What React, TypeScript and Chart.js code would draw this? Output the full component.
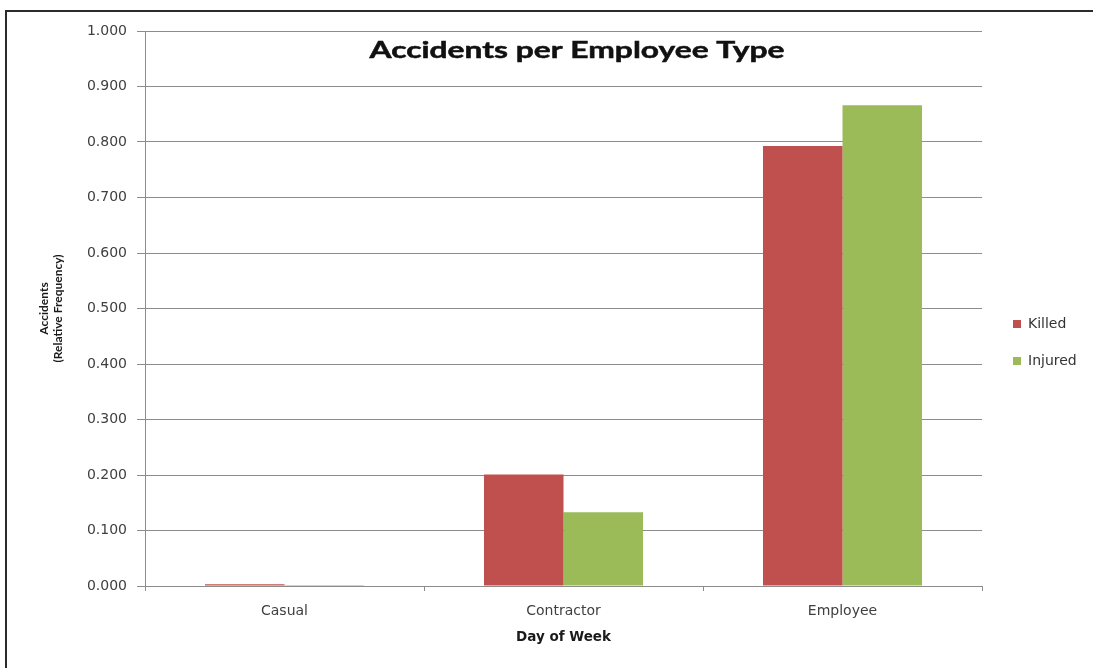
import React, { useEffect, useRef } from "react";
import { Chart, registerables } from "chart.js";

Chart.register(...registerables);

const categories = ["Casual", "Contractor", "Employee"];
const killedValues = [0.003, 0.201, 0.793];
const injuredValues = [0.002, 0.133, 0.866];
const seriesNames = ["Killed", "Injured"];
const seriesColors = ["#C0504D", "#9BBB59"];
const chartTitle = "Accidents per Employee Type";
const yTitle = ["Accidents", "(Relative Frequency)"];
const xTitle = "Day of Week";

const W = 1093;
const H = 668;

const decorPlugin = {
  id: "decor",
  beforeDraw(chart: any) {
    const ctx = chart.ctx;
    ctx.save();
    ctx.fillStyle = "#ffffff";
    ctx.fillRect(0, 0, W, H);
    ctx.restore();
  },
  afterDraw(chart: any) {
    const ctx = chart.ctx;
    ctx.save();
    // outer frame
    ctx.strokeStyle = "#2b2b2b";
    ctx.lineWidth = 2;
    ctx.beginPath();
    ctx.moveTo(6, H + 2);
    ctx.lineTo(6, 11);
    ctx.lineTo(W + 2, 11);
    ctx.stroke();
    // title on white band
    const cx = 577;
    const targetW = 415;
    ctx.fillStyle = "#ffffff";
    ctx.fillRect(cx - targetW / 2 - 8, 36, targetW + 16, 36);
    ctx.font = "bold 23px Lato";
    const tw = ctx.measureText(chartTitle).width;
    ctx.save();
    ctx.translate(cx, 51);
    ctx.scale(targetW / tw, 1);
    ctx.fillStyle = "#111111";
    ctx.strokeStyle = "#111111";
    ctx.lineWidth = 0.5;
    ctx.textAlign = "center";
    ctx.textBaseline = "middle";
    ctx.fillText(chartTitle, 0, 0);
    ctx.strokeText(chartTitle, 0, 0);
    ctx.restore();
    // legend
    const ys = [324, 361];
    ctx.font = "14px 'DejaVu Sans'";
    ctx.textAlign = "left";
    ctx.textBaseline = "middle";
    chart.data.datasets.forEach((ds: any, i: number) => {
      ctx.fillStyle = ds.backgroundColor;
      ctx.fillRect(1013, ys[i] - 4, 8, 8);
      ctx.fillStyle = "#333333";
      ctx.fillText(ds.label, 1028, ys[i]);
    });
    ctx.restore();
  },
};

export default function App() {
  const ref = useRef<HTMLCanvasElement>(null);
  useEffect(() => {
    if (!ref.current) return;
    const chart = new Chart(ref.current, {
      type: "bar",
      data: {
        labels: categories,
        datasets: [
          { label: seriesNames[0], data: killedValues, backgroundColor: seriesColors[0] },
          { label: seriesNames[1], data: injuredValues, backgroundColor: seriesColors[1] },
        ],
      },
      options: {
        responsive: false,
        animation: false,
        datasets: { bar: { categoryPercentage: 0.57, barPercentage: 1.0 } },
        layout: { padding: { top: 31, right: 111, bottom: 0, left: 0 } },
        plugins: { legend: { display: false }, title: { display: false }, tooltip: { enabled: false } },
        scales: {
          x: {
            grid: { display: true, drawOnChartArea: false, drawTicks: true, tickLength: 5, color: "#8c8c8c" },
            border: { display: true, color: "#8c8c8c" },
            ticks: { font: { family: "'DejaVu Sans'", size: 14 }, color: "#404040", padding: 12 },
            title: {
              display: true,
              text: xTitle,
              font: { family: "'DejaVu Sans'", size: 13.5, weight: "bold" },
              color: "#1a1a1a",
              padding: { top: 0, bottom: 22 },
            },
            afterFit(scale: any) {
              scale.height = 82;
            },
          },
          y: {
            min: 0,
            max: 1,
            ticks: {
              stepSize: 0.1,
              font: { family: "'DejaVu Sans'", size: 14 },
              color: "#404040",
              padding: 10,
              callback: (v: any) => Number(v).toFixed(3),
            },
            grid: { color: "#8c8c8c", tickLength: 8 },
            border: { display: true, color: "#8c8c8c" },
            title: {
              display: true,
              text: yTitle,
              font: { family: "Lato", size: 12, weight: "bold", lineHeight: 1.1 },
              color: "#1a1a1a",
              padding: { top: 38, bottom: 0 },
            },
            afterFit(scale: any) {
              scale.width = 145;
            },
          },
        },
      },
      plugins: [decorPlugin],
    });
    return () => chart.destroy();
  }, []);
  return (
    <div style={{ position: "absolute", left: 0, top: 0, width: W, height: H }}>
      <canvas ref={ref} width={W} height={H} style={{ display: "block" }} />
    </div>
  );
}
